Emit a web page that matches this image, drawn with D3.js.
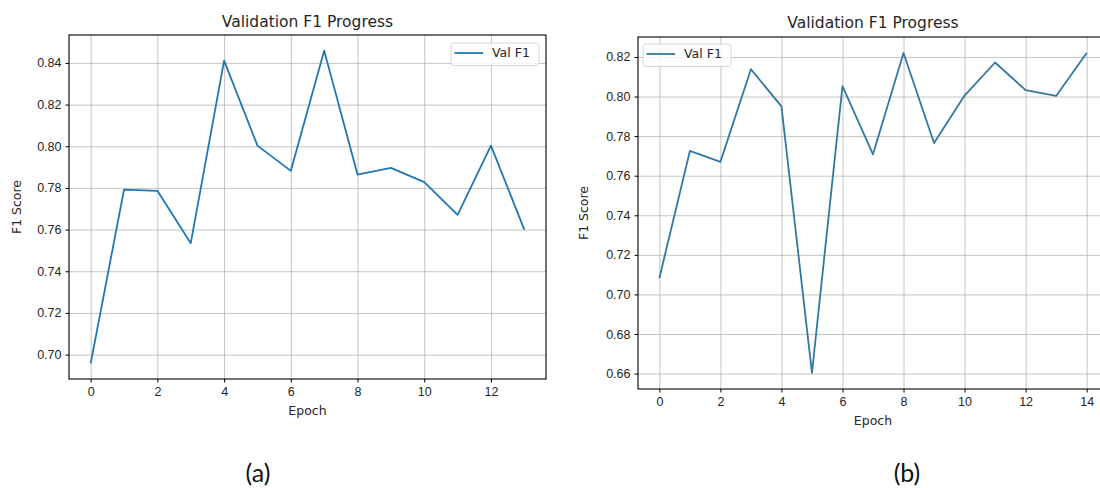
<!DOCTYPE html>
<html>
<head>
<meta charset="utf-8">
<script src="https://cdn.jsdelivr.net/npm/d3@7"></script>
<style>
  body { margin: 0; background: #fff; }
  svg { display: block; font-family: "DejaVu Sans", sans-serif; }
  .tick text { font-size: 12.5px; fill: #262626; }
  .tick line { stroke: #000; }
  .grid .tick line { stroke: #b0b0b0; stroke-opacity: 0.75; }
  .grid .domain { display: none; }
</style>
</head>
<body>
<svg id="chart" width="1100" height="488"></svg>
<script>
// panel (a)
const epochsA = [0, 1, 2, 3, 4, 5, 6, 7, 8, 9, 10, 11, 12, 13];
const f1A = [0.6958, 0.7792, 0.7786, 0.7535, 0.8411, 0.8003, 0.7882, 0.8459,
  0.7864, 0.7896, 0.7828, 0.7671, 0.8003, 0.7600];
const xTicksA = [0, 2, 4, 6, 8, 10, 12];
const yTicksA = [0.70, 0.72, 0.74, 0.76, 0.78, 0.80, 0.82, 0.84];

// panel (b)
const epochsB = [0, 1, 2, 3, 4, 5, 6, 7, 8, 9, 10, 11, 12, 13, 14];
const f1B = [0.7082, 0.7725, 0.7670, 0.8138, 0.7950, 0.6603, 0.8053, 0.7708,
  0.8220, 0.7765, 0.8005, 0.8172, 0.8032, 0.8003, 0.8220];
const xTicksB = [0, 2, 4, 6, 8, 10, 12, 14];
const yTicksB = [0.66, 0.68, 0.70, 0.72, 0.74, 0.76, 0.78, 0.80, 0.82];

const titleText = "Validation F1 Progress";
const legendLabel = "Val F1";
const xLabel = "Epoch";
const yLabel = "F1 Score";
const captions = ["(a)", "(b)"];

LineChart = function(opts) {
  this.opts = opts;
  this.initVis();
};

LineChart.prototype.initVis = function() {
  let vis = this;
  let o = vis.opts;

  vis.svg = d3.select("#chart");
  vis.width = o.right - o.left;
  vis.height = o.bottom - o.top;

  vis.g = vis.svg
    .append("g")
    .attr("transform", "translate(" + o.left + ", " + o.top + ")");

  // matplotlib style 5% margins
  let xExt = d3.extent(o.epochs);
  let yExt = d3.extent(o.values);
  let xPad = (xExt[1] - xExt[0]) * 0.05;
  let yPad = (yExt[1] - yExt[0]) * 0.05;

  vis.x = d3
    .scaleLinear()
    .domain([xExt[0] - xPad, xExt[1] + xPad])
    .range([0, vis.width]);

  vis.y = d3
    .scaleLinear()
    .domain([yExt[0] - yPad, yExt[1] + yPad])
    .range([vis.height, 0]);

  vis.renderVis();
};

LineChart.prototype.renderVis = function() {
  let vis = this;
  let o = vis.opts;

  // grid
  vis.g
    .append("g")
    .attr("class", "grid")
    .attr("transform", "translate(0," + vis.height + ")")
    .call(d3.axisBottom(vis.x).tickValues(o.xTicks).tickSize(-vis.height).tickFormat(""));

  vis.g
    .append("g")
    .attr("class", "grid")
    .call(d3.axisLeft(vis.y).tickValues(o.yTicks).tickSize(-vis.width).tickFormat(""));

  // line
  let line = d3
    .line()
    .x(function(d, i) { return vis.x(o.epochs[i]); })
    .y(function(d) { return vis.y(d); });

  vis.g
    .append("path")
    .datum(o.values)
    .attr("fill", "none")
    .attr("stroke", o.color)
    .attr("stroke-width", 1.8)
    .attr("stroke-linejoin", "round")
    .attr("d", line);

  // frame
  vis.g
    .append("rect")
    .attr("width", vis.width)
    .attr("height", vis.height)
    .attr("fill", "none")
    .attr("stroke", "#000")
    .attr("stroke-width", 1.1);

  // axes
  let xAxis = vis.g
    .append("g")
    .attr("transform", "translate(0," + vis.height + ")")
    .call(d3.axisBottom(vis.x).tickValues(o.xTicks).tickSize(3.5).tickPadding(5).tickFormat(d3.format("d")));
  xAxis.select(".domain").remove();

  let yAxis = vis.g
    .append("g")
    .call(d3.axisLeft(vis.y).tickValues(o.yTicks).tickSize(3.5).tickPadding(4).tickFormat(d3.format(".2f")));
  yAxis.select(".domain").remove();

  vis.g.selectAll(".tick text").attr("font-family", null);

  // title
  vis.g
    .append("text")
    .attr("x", vis.width / 2)
    .attr("y", o.titleY - o.top)
    .attr("text-anchor", "middle")
    .attr("font-size", "15.5px")
    .attr("fill", "#262626")
    .text(titleText);

  // axis labels
  vis.g
    .append("text")
    .attr("x", vis.width / 2)
    .attr("y", vis.height + 36)
    .attr("text-anchor", "middle")
    .attr("font-size", "12.5px")
    .attr("fill", "#262626")
    .text(xLabel);

  vis.g
    .append("text")
    .attr("transform", "translate(" + (o.yLabelX - o.left) + "," + vis.height / 2 + ") rotate(-90)")
    .attr("text-anchor", "middle")
    .attr("dy", "0.35em")
    .attr("font-size", "12.5px")
    .attr("fill", "#262626")
    .text(yLabel);

  // legend
  let lg = vis.g
    .append("g")
    .attr("transform", "translate(" + (o.legendX - o.left) + "," + (o.legendY - o.top) + ")");

  lg.append("rect")
    .attr("width", 88)
    .attr("height", 22.5)
    .attr("rx", 3)
    .attr("fill", "#fff")
    .attr("fill-opacity", 0.8)
    .attr("stroke", "#d6d6d6");

  lg.append("line")
    .attr("x1", 3.5)
    .attr("x2", 32)
    .attr("y1", 10)
    .attr("y2", 10)
    .attr("stroke", o.color)
    .attr("stroke-width", 1.8);

  lg.append("text")
    .attr("x", 41)
    .attr("y", 10)
    .attr("dy", "0.35em")
    .attr("font-size", "12.5px")
    .attr("fill", "#262626")
    .text(legendLabel);

  // caption
  vis.svg
    .append("text")
    .attr("x", o.captionX)
    .attr("y", 482)
    .attr("text-anchor", "middle")
    .attr("font-family", "Lato, 'Open Sans', sans-serif")
    .attr("font-size", "25px")
    .attr("fill", "#111")
    .text(o.caption);
};

new LineChart({
  epochs: epochsA, values: f1A, xTicks: xTicksA, yTicks: yTicksA,
  left: 69, right: 546, top: 35, bottom: 379,
  titleY: 27, yLabelX: 17, legendX: 451, legendY: 43,
  color: "#1f77b4", caption: captions[0], captionX: 258
});

new LineChart({
  epochs: epochsB, values: f1B, xTicks: xTicksB, yTicks: yTicksB,
  left: 638, right: 1108, top: 37, bottom: 389,
  titleY: 28, yLabelX: 584, legendX: 643, legendY: 44,
  color: "#33789f", caption: captions[1], captionX: 907
});
</script>
</body>
</html>
